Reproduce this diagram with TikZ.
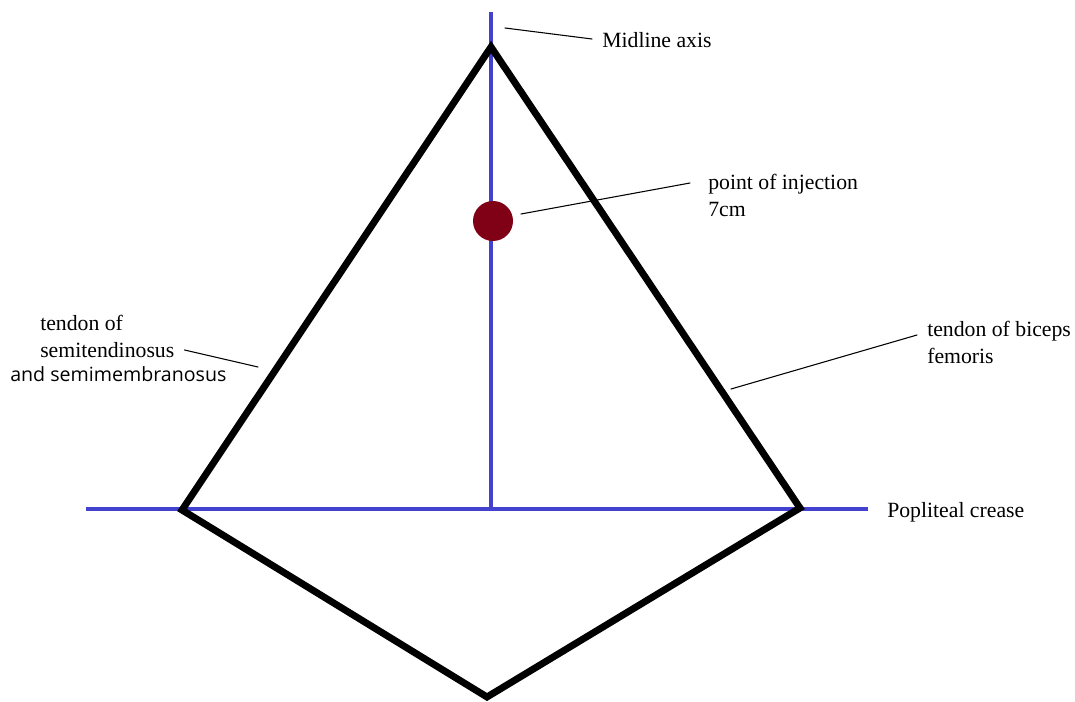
\documentclass[tikz,border=0pt]{standalone}
\usepackage{fontspec}
\setmainfont{Liberation Serif}
\newfontfamily\labelsans{Open Sans}
\usepackage{xcolor}
\definecolor{axisblue}{RGB}{66,66,206}
\definecolor{dotred}{RGB}{128,0,21}

\begin{document}
\begin{tikzpicture}[x=0.75pt,y=-0.75pt,line cap=round,
  font=\fontsize{16.3}{20.3}\selectfont,
  tendon/.style={line width=5.2pt,line join=miter,line cap=butt},
  axisline/.style={axisblue,line width=3pt,line cap=butt},
  leader/.style={line width=0.8pt},
  lbl/.style={anchor=west,inner sep=0pt,align=left}]
\useasboundingbox (0,0) rectangle (1075,702);
% corners of the fossa
\coordinate (apex) at (491,47);
\coordinate (lbase) at (182,510);
\coordinate (rbase) at (800,508);
\coordinate (bottom) at (487,697);
% axes
\draw[axisline] (491,12) -- (491,508);
\draw[axisline] (86,509) -- (868,509);
% outline
\draw[tendon] (lbase) -- (apex) -- (rbase) -- (bottom) -- cycle;
% injection point
\fill[dotred] (493,221) circle (20);
\coordinate (dot) at (521,214);
% labels
\node[lbl] (midline) at (602,40) {Midline axis};
\node[lbl] (inject) at (708,195) {point of injection\\7cm};
\node[lbl] (biceps) at (927,342) {tendon of biceps\\femoris};
\node[lbl] (semi) at (40,336) {tendon of\\semitendinosus};
\node[lbl,font=\labelsans\fontsize{14.7}{18}\selectfont] (membr) at (10,374) {and semimembranosus};
\node[lbl] (crease) at (887,512) {Popliteal crease};
% leaders
\coordinate (midtip) at (505,28);
\coordinate (bictip) at (731,389);
\coordinate (semitip) at (258,367);
\draw[leader] (midtip) -- ([shift={(-10,-1)}]midline.west);
\draw[leader] (dot) -- ([shift={(-18,-12)}]inject.west);
\draw[leader] (bictip) -- ([shift={(-10,-7)}]biceps.west);
\draw[leader] (semitip) -- ([shift={(10,14)}]semi.east);
\end{tikzpicture}
\end{document}
